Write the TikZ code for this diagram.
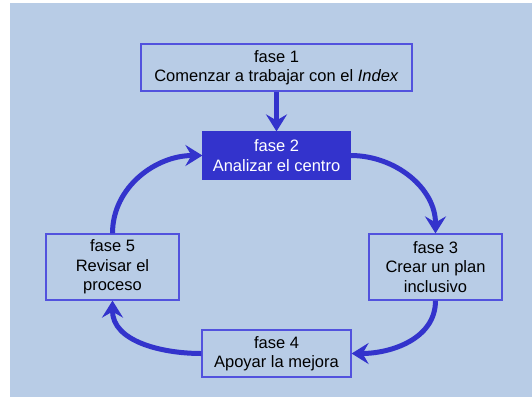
\documentclass[tikz,border=0pt]{standalone}
\usepackage{fontspec}
\setmainfont{Liberation Sans}
\usetikzlibrary{arrows.meta}

\definecolor{fondo}{HTML}{B8CCE6}
\definecolor{azul}{HTML}{3333CC}
\definecolor{borde}{HTML}{5252DE}

\tikzset{
  fase/.style={draw=borde, line width=1.2pt, align=center, inner sep=0pt,
    font=\fontsize{16.5}{19.5}\selectfont},
  fasedos/.style={fase, fill=azul, draw=azul, text=white},
  flecha/.style={draw=azul, line width=5pt,
    -{Stealth[inset=6pt, length=17pt, width=21pt]}}
}

\begin{document}
\begin{tikzpicture}[x=1pt, y=-1pt]
  \useasboundingbox (0,0) rectangle (532,397);
  \fill[fondo] (10,3) rectangle (532,397);

  \node[fase, minimum width=271pt, minimum height=47pt] (f1) at (276.5,67.5)
    {fase 1\\Comenzar a trabajar con el \textit{Index}};
  \node[fasedos, minimum width=147pt, minimum height=47pt] (f2) at (276.5,155.5)
    {fase 2\\Analizar el centro};
  \node[fase, minimum width=133pt, minimum height=66pt] (f3) at (435.5,267)
    {fase 3\\Crear un plan\\inclusivo};
  \node[fase, minimum width=149pt, minimum height=47pt] (f4) at (276.5,353.5)
    {fase 4\\Apoyar la mejora};
  \node[fase, minimum width=133pt, minimum height=66pt] (f5) at (112.5,267)
    {fase 5\\Revisar el\\proceso};

  \draw[flecha] (f1.south) -- (f2.north);
  \draw[flecha] (f2.east) to[out=0, in=90] (f3.north);
  \draw[flecha] (f3.south) to[out=-90, in=0] (f4.east);
  \draw[flecha] (f4.west) to[out=180, in=-90] (f5.south);
  \draw[flecha] (f5.north) to[out=90, in=180] (f2.west);
\end{tikzpicture}
\end{document}
